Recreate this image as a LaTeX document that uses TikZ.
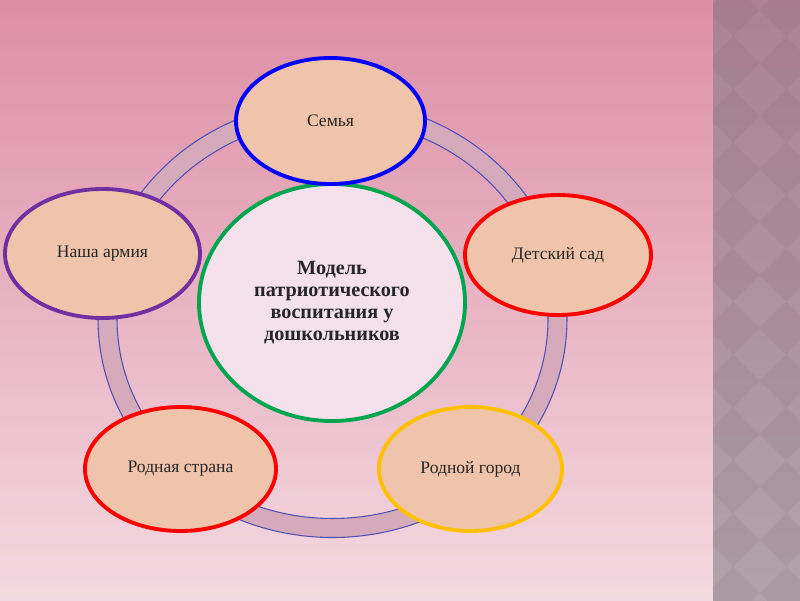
\documentclass[tikz,border=0pt]{standalone}
\usepackage{fontspec}
\setmainfont{Liberation Serif}
\usetikzlibrary{shapes.geometric}

\definecolor{bgtop}{HTML}{DD8EA5}
\definecolor{bgbottom}{HTML}{F3D9E1}
\definecolor{striptop}{HTML}{AB8393}
\definecolor{stripbottom}{HTML}{B2A2A9}
\definecolor{stripdark}{HTML}{5A3A48}
\definecolor{peach}{HTML}{F0C4AA}
\definecolor{hubfill}{HTML}{F5E1EC}
\definecolor{ringfill}{HTML}{D5AABA}
\definecolor{ringline}{HTML}{5050B4}
\definecolor{txt}{HTML}{262626}
\definecolor{armyviolet}{HTML}{7030A0}
\definecolor{hubgreen}{HTML}{00A550}
\definecolor{cityamber}{HTML}{FFC000}

\begin{document}
\begin{tikzpicture}[
    topic/.style={ellipse, draw, line width=2.2pt, fill=peach, inner sep=0pt,
                  font=\fontsize{10}{12}\selectfont, text=txt},
    hub/.style={ellipse, draw=hubgreen, line width=2.2pt, fill=hubfill,
                inner sep=0pt, align=center, text=txt,
                font=\fontsize{11.5}{12.6}\selectfont\bfseries},
    ringedge/.style={draw=ringline, line width=0.6pt},
  ]
  \useasboundingbox (0,0) rectangle (16,12);

  % ===== Slide background =====
  \shade[top color=bgtop, bottom color=bgbottom] (0,0) rectangle (14.26,12);
  \shade[top color=striptop, bottom color=stripbottom] (14.26,0) rectangle (16,12);
  \begin{scope}
    \clip (14.26,0) rectangle (16,12);
    \foreach \a in {-1,...,2}
      \foreach \b in {0,...,12}
        \fill[stripdark, opacity=0.07] (14.66+1.06*\a-0.53, 11.8-1.06*\b)
          -- ++(0.53,0.53) -- ++(0.53,-0.53) -- ++(-0.53,-0.53) -- cycle;
  \end{scope}

  % ===== Cycle ring =====
  \coordinate (rc) at (6.65,5.62);
  \fill[ringfill, even odd rule]
    (rc) ellipse [x radius=4.69, y radius=4.37]
    (rc) ellipse [x radius=4.31, y radius=3.99];
  \draw[ringedge] (rc) ellipse [x radius=4.69, y radius=4.37];
  \draw[ringedge] (rc) ellipse [x radius=4.31, y radius=3.99];

  % ===== Central model =====
  \node[hub, minimum width=5.32cm, minimum height=4.74cm] (hub) at (6.64,5.95)
    {Модель\\патриотического\\воспитания у\\дошкольников};

  % ===== Surrounding topics =====
  \node[topic, draw=blue, minimum width=3.78cm, minimum height=2.52cm]
    (family) at (6.61,9.58) {Семья};
  \node[topic, draw=red, minimum width=3.72cm, minimum height=2.4cm]
    (kinder) at (11.16,6.90) {Детский сад};
  \node[topic, draw=cityamber, minimum width=3.66cm, minimum height=2.48cm]
    (city) at (9.41,2.62) {Родной город};
  \node[topic, draw=red, minimum width=3.82cm, minimum height=2.48cm]
    (country) at (3.61,2.62) {Родная страна};
  \node[topic, draw=armyviolet, minimum width=3.9cm, minimum height=2.58cm]
    (army) at (2.05,6.93) {Наша армия};

\end{tikzpicture}
\end{document}
